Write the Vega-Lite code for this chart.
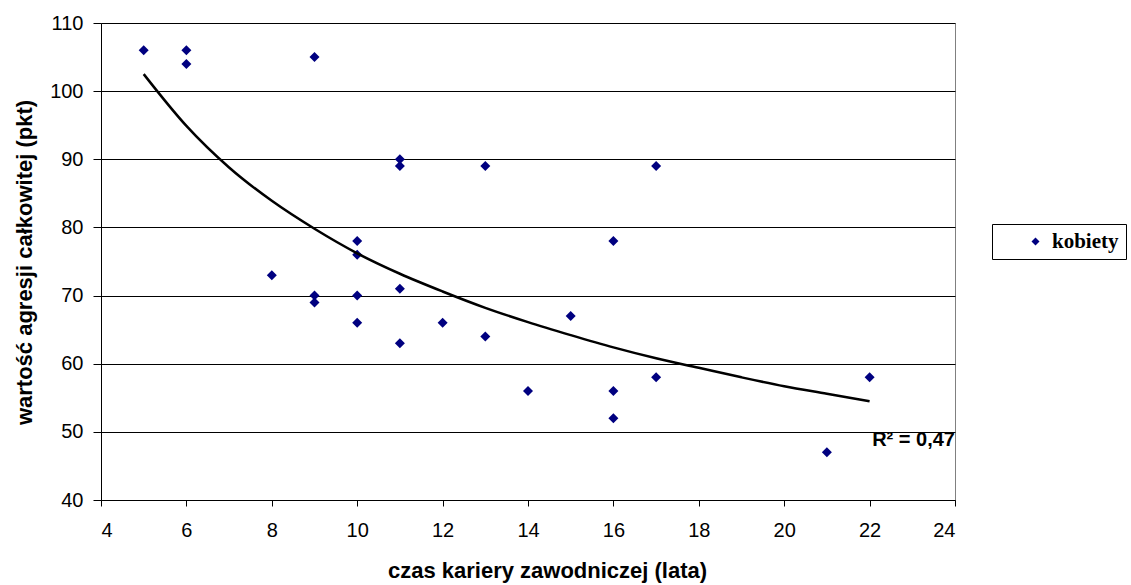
{
  "$schema": "https://vega.github.io/schema/vega-lite/v6.json",
  "autosize": "none",
  "width": 854,
  "height": 477,
  "padding": {"left": 101, "top": 23, "right": 176, "bottom": 85},
  "background": "white",
  "config": {
    "view": {"stroke": "#808080", "strokeWidth": 1},
    "font": "Liberation Sans"
  },
  "datasets": {
    "pts": [
      {"x": 5, "y": 106, "s": "kobiety"},
      {"x": 6, "y": 106, "s": "kobiety"},
      {"x": 6, "y": 104, "s": "kobiety"},
      {"x": 9, "y": 105, "s": "kobiety"},
      {"x": 8, "y": 73, "s": "kobiety"},
      {"x": 9, "y": 70, "s": "kobiety"},
      {"x": 9, "y": 69, "s": "kobiety"},
      {"x": 10, "y": 78, "s": "kobiety"},
      {"x": 10, "y": 76, "s": "kobiety"},
      {"x": 10, "y": 70, "s": "kobiety"},
      {"x": 10, "y": 66, "s": "kobiety"},
      {"x": 11, "y": 90, "s": "kobiety"},
      {"x": 11, "y": 89, "s": "kobiety"},
      {"x": 11, "y": 71, "s": "kobiety"},
      {"x": 11, "y": 63, "s": "kobiety"},
      {"x": 12, "y": 66, "s": "kobiety"},
      {"x": 13, "y": 89, "s": "kobiety"},
      {"x": 13, "y": 64, "s": "kobiety"},
      {"x": 14, "y": 56, "s": "kobiety"},
      {"x": 15, "y": 67, "s": "kobiety"},
      {"x": 16, "y": 78, "s": "kobiety"},
      {"x": 16, "y": 56, "s": "kobiety"},
      {"x": 16, "y": 52, "s": "kobiety"},
      {"x": 17, "y": 89, "s": "kobiety"},
      {"x": 17, "y": 58, "s": "kobiety"},
      {"x": 21, "y": 47, "s": "kobiety"},
      {"x": 22, "y": 58, "s": "kobiety"}
    ],
    "trend": [
      {"x": 5, "y": 102.5},
      {"x": 6, "y": 94.9},
      {"x": 7, "y": 88.8},
      {"x": 8, "y": 83.9},
      {"x": 9, "y": 79.8},
      {"x": 10, "y": 76.2},
      {"x": 11, "y": 73.2},
      {"x": 12, "y": 70.6},
      {"x": 13, "y": 68.2},
      {"x": 14, "y": 66.1},
      {"x": 15, "y": 64.2},
      {"x": 16, "y": 62.4},
      {"x": 17, "y": 60.8},
      {"x": 18, "y": 59.4},
      {"x": 19, "y": 58.0},
      {"x": 20, "y": 56.7},
      {"x": 21, "y": 55.6},
      {"x": 22, "y": 54.5}
    ]
  },
  "layer": [
    {
      "data": {"name": "pts"},
      "mark": {"type": "point", "shape": "diamond", "filled": true, "size": 100, "opacity": 1},
      "encoding": {
        "x": {
          "field": "x", "type": "quantitative",
          "scale": {"domain": [4, 24], "nice": false, "zero": false},
          "axis": {
            "values": [4, 6, 8, 10, 12, 14, 16, 18, 20, 22, 24],
            "title": "czas kariery zawodniczej (lata)",
            "titleFontSize": 22, "titleFontWeight": "bold", "titleColor": "black",
            "titleX": 446, "titleY": 70, "titleBaseline": "middle", "titleAlign": "center",
            "labelFontSize": 20, "labelColor": "black", "labelPadding": 14,
            "domainColor": "black", "tickColor": "black", "tickSize": 6,
            "grid": false
          }
        },
        "y": {
          "field": "y", "type": "quantitative",
          "scale": {"domain": [40, 110], "nice": false, "zero": false},
          "axis": {
            "values": [40, 50, 60, 70, 80, 90, 100, 110],
            "title": "wartość agresji całkowitej (pkt)",
            "titleFontSize": 22, "titleFontWeight": "bold", "titleColor": "black",
            "titleX": -77, "titleY": 239, "titleBaseline": "middle", "titleAlign": "center", "titleAngle": -90,
            "labelFontSize": 20, "labelColor": "black", "labelPadding": 10,
            "domainColor": "black", "tickColor": "black", "tickSize": 8,
            "grid": true, "gridColor": "black", "gridWidth": 1.2, "gridOpacity": 1
          }
        },
        "color": {
          "field": "s", "type": "nominal",
          "scale": {"range": ["#000080"]},
          "legend": {
            "title": null,
            "orient": "none",
            "legendX": 891,
            "legendY": 201,
            "strokeColor": "black",
            "fillColor": "white",
            "padding": 7,
            "symbolType": "diamond",
            "symbolSize": 64,
            "symbolStrokeWidth": 0,
            "labelFont": "Liberation Serif",
            "labelFontWeight": "bold",
            "labelFontSize": 21,
            "labelColor": "black",
            "symbolOffset": 26,
            "labelOffset": 6,
            "labelExpr": "datum.label + '\u00a0\u00a0\u00a0\u00a0'",
            "labelLimit": 300
          }
        }
      }
    },
    {
      "data": {"name": "trend"},
      "mark": {"type": "line", "color": "black", "strokeWidth": 2.5, "interpolate": "monotone"},
      "encoding": {
        "x": {"field": "x", "type": "quantitative"},
        "y": {"field": "y", "type": "quantitative"}
      }
    },
    {
      "data": {"values": [{"x": 24, "y": 48.8, "t": "R² = 0,47"}]},
      "mark": {"type": "text", "align": "right", "baseline": "middle", "fontSize": 20, "fontWeight": "bold", "color": "black", "font": "Liberation Sans"},
      "encoding": {
        "x": {"field": "x", "type": "quantitative"},
        "y": {"field": "y", "type": "quantitative"},
        "text": {"field": "t"}
      }
    }
  ]
}
